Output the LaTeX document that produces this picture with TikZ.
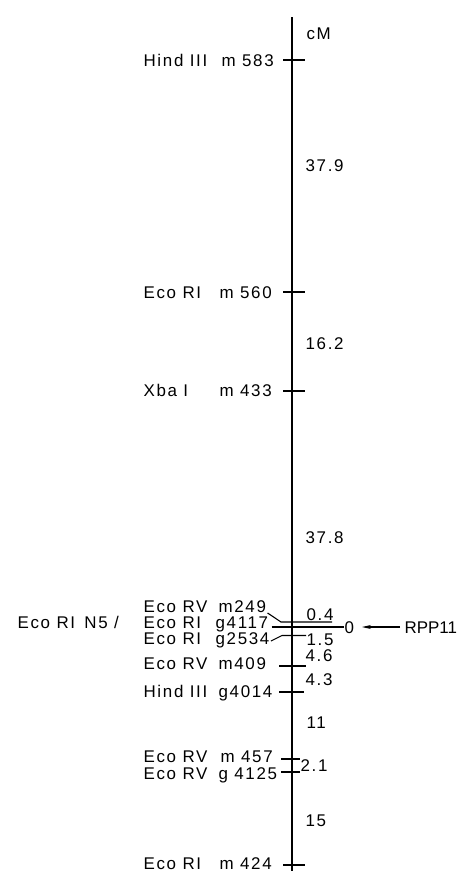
\documentclass[tikz,border=0pt]{standalone}
\usepackage{fontspec}
\setmainfont{Liberation Sans}[LetterSpace=10]
\usetikzlibrary{arrows.meta}
\begin{document}
\begin{tikzpicture}[x=1bp,y=-1bp,line width=1.1bp,
  lab/.style={inner sep=0pt,anchor=base west,font=\fontsize{17}{20}\selectfont},
  tk/.style={line width=1.1bp}]
\useasboundingbox (0,0) rectangle (464,871);
% axis
\coordinate (top) at (292,17);
\coordinate (bot) at (292,871);
\draw (top) -- (bot);
\node[lab] (cm) at (306,39) {cM};
% markers
\node[lab] (w1) at (143,66) {Hind III};
\node[lab] (c1) at (221,66) {m 583};
\node[lab] (w2) at (143,298) {Eco RI};
\node[lab] (c2) at (219,298) {m 560};
\node[lab] (w3) at (143,396) {Xba I};
\node[lab] (c3) at (219,396) {m 433};
\node[lab] (w4) at (143,612) {Eco RV};
\node[lab] (c4) at (218,612) {m249};
\node[lab] (w0) at (17,628) {Eco RI\, N5 /};
\node[lab] (w5) at (143,628) {Eco RI};
\node[lab] (c5) at (215,628) {g4117};
\node[lab] (w6) at (143,644) {Eco RI};
\node[lab] (c6) at (215,644) {g2534};
\node[lab] (w7) at (143,669) {Eco RV};
\node[lab] (c7) at (218,669) {m409};
\node[lab] (w8) at (143,697) {Hind III};
\node[lab] (c8) at (218,697) {g4014};
\node[lab] (w9) at (143,762) {Eco RV};
\node[lab] (c9) at (220,762) {m 457};
\node[lab] (w10) at (143,779) {Eco RV};
\node[lab] (c10) at (218,779) {g 4125};
\node[lab] (w11) at (143,869) {Eco RI};
\node[lab] (c11) at (219,869) {m 424};
% distances
\node[lab] (d1) at (305,171) {37.9};
\node[lab] (d2) at (305,349) {16.2};
\node[lab] (d3) at (305,543) {37.8};
\node[lab] (d4) at (306,620) {0.4};
\node[lab] (d5) at (306,645) {1.5};
\node[lab] (d6) at (305,661) {4.6};
\node[lab] (d7) at (305,685) {4.3};
\node[lab] (d8) at (306,728) {11};
\node[lab] (d9) at (300,771) {2.1};
\node[lab] (d10) at (305,826) {15};
\node[lab] (zero) at (344,633) {0};
\node[lab] (rpp) at (404,633) {\addfontfeature{LetterSpace=0}RPP11};
% ticks
\draw[tk] (283,60) -- (305,60);
\draw[tk] (283,292) -- (305,292);
\draw[tk] (283,391) -- (305,391);
\draw[tk] (279,666) -- (306,666);
\draw[tk] (279,692) -- (304,692);
\draw[tk] (281,759) -- (300,759);
\draw[tk] (281,772) -- (300,772);
\draw[tk] (283,865) -- (305,865);
% cluster connectors
\draw[tk] (c4.base east) ++(1,1) -- (281,622) -- (332,622);
\draw[tk] (c5.base east |- 0,627) ++(3,0) -- (zero.west |- 0,627);
\draw[tk] (c6.base east) ++(1,-3) -- (282,635.5) -- (306,635.5);
\draw[-{Stealth[length=9bp,width=4bp]},tk] (rpp.west |- 0,627) ++(-4,0) -- ++(-38,0);
\end{tikzpicture}
\end{document}
